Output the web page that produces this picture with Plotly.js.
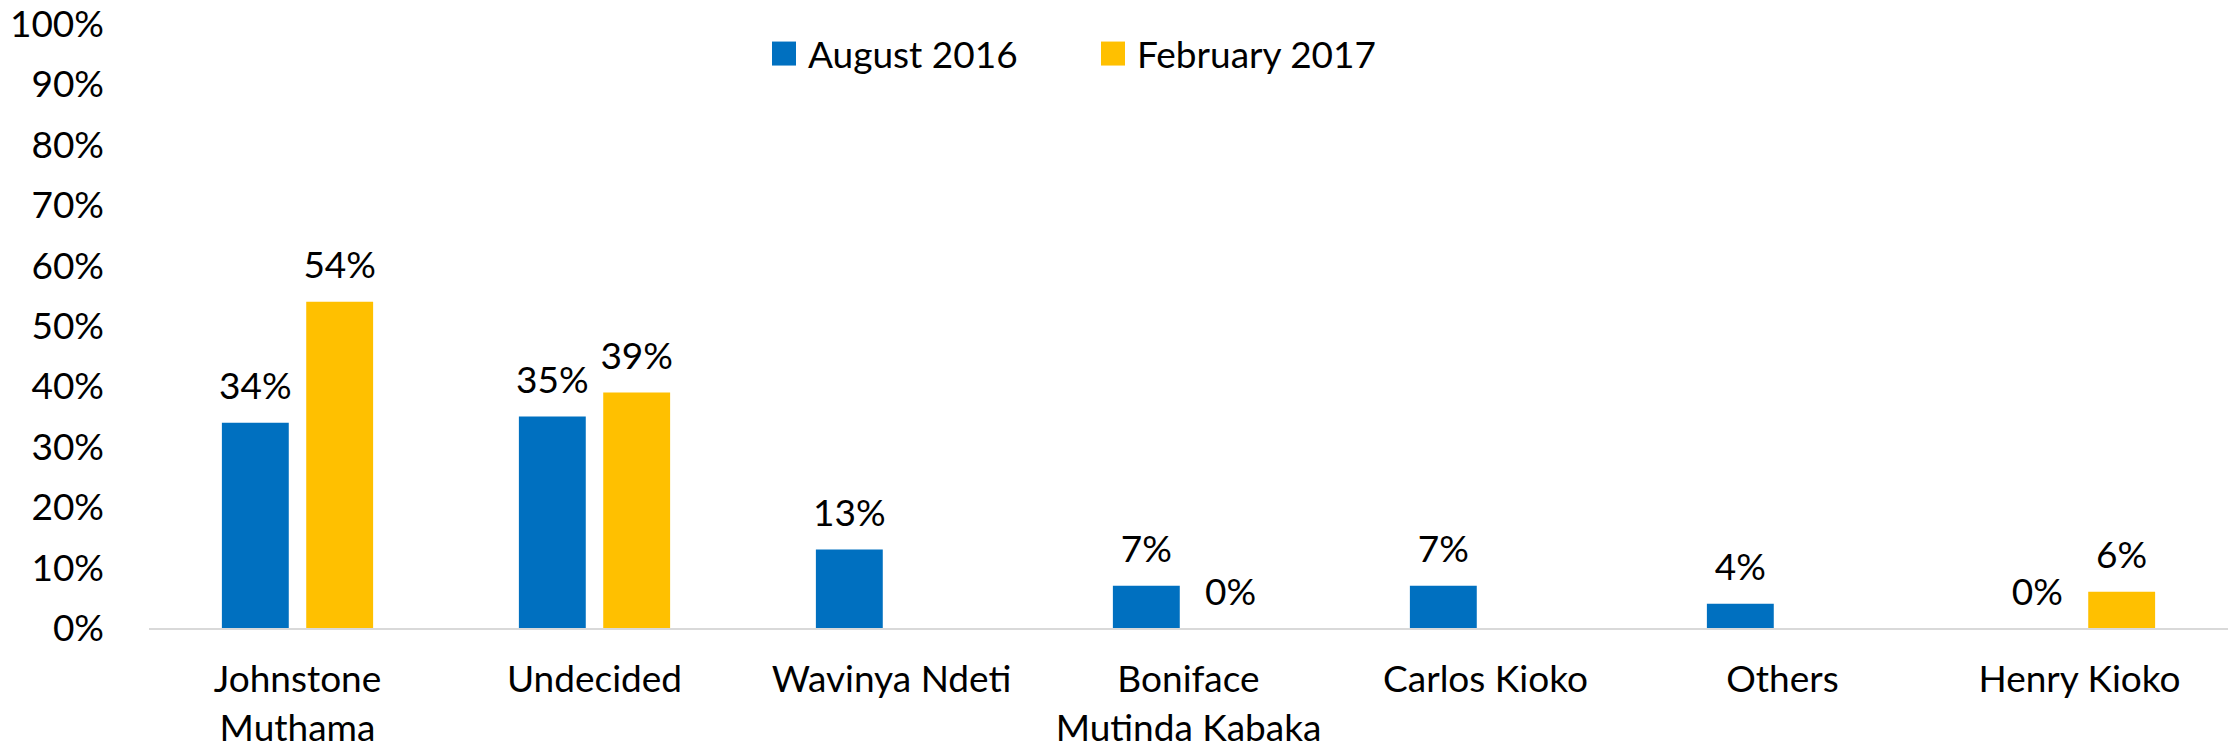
<!DOCTYPE html>
<html>
<head>
<meta charset="utf-8">
<script src="https://cdn.plot.ly/plotly-3.0.1.min.js"></script>
<style>html,body{margin:0;padding:0;background:#fff;}#chart{width:2228px;height:749px;}</style>
</head>
<body>
<div id="chart"></div>
<script>
var categories = ["Johnstone<br>Muthama", "Undecided", "Wavinya Ndeti", "Boniface<br>Mutinda Kabaka", "Carlos Kioko", "Others", "Henry Kioko"];
var seriesNames = ["August 2016", "February 2017"];
var aug2016 = [0.34, 0.35, 0.13, 0.07, 0.07, 0.04, 0];
var feb2017 = [0.54, 0.39, null, 0, null, null, 0.06];
var yTicks = [0, 0.1, 0.2, 0.3, 0.4, 0.5, 0.6, 0.7, 0.8, 0.9, 1.0];

var FONT = "Lato, 'Open Sans', sans-serif";
var FS = 37;
var colors = ["#0070C0", "#FFC000"];
var series = [aug2016, feb2017];

var traces = [];
series.forEach(function (vals, i) {
  traces.push({
    type: "bar", x: categories, y: vals, name: seriesNames[i],
    offsetgroup: String(i + 1),
    marker: {color: colors[i]}, hoverinfo: "skip"
  });
});
series.forEach(function (vals, i) {
  traces.push({
    type: "scatter", mode: "markers+text", x: categories, y: vals,
    offsetgroup: String(i + 1), showlegend: false,
    text: vals.map(function (v) { return v === null ? "" : Math.round(v * 100) + "%"; }),
    textposition: "top center",
    textfont: {family: FONT, size: FS, color: "#000"},
    marker: {size: 21, opacity: 0}, hoverinfo: "skip", cliponaxis: false
  });
});

var layout = {
  width: 2228, height: 749,
  margin: {l: 149, r: 0, t: 24, b: 121},
  paper_bgcolor: "#fff", plot_bgcolor: "rgba(0,0,0,0)",
  barmode: "group", bargap: 0.432, bargroupgap: 0.207,
  scattermode: "group", scattergap: 0.432,
  font: {family: FONT, size: FS, color: "#000"},
  showlegend: true,
  legend: {
    orientation: "h", xref: "paper", yref: "paper",
    x: (768 - 149) / 2079, xanchor: "left", y: (628 - 54) / 604, yanchor: "middle",
    bgcolor: "rgba(0,0,0,0)",
    font: {family: FONT, size: FS, color: "#000"},
    entrywidth: 284, entrywidthmode: "pixels", traceorder: "normal"
  },
  xaxis: {
    type: "category", showline: true, linecolor: "#d9d9d9", linewidth: 2,
    showgrid: false, zeroline: false, ticks: "", ticklabelstandoff: 18,
    tickfont: {family: FONT, size: FS, color: "#000"}, fixedrange: true
  },
  yaxis: {
    range: [0, 1], tickvals: yTicks, tickformat: ".0%", showgrid: false,
    zeroline: false, showline: false, ticks: "", ticklabelstandoff: 44,
    ticklabeloverflow: "allow",
    tickfont: {family: FONT, size: FS, color: "#000"}, fixedrange: true
  }
};

function bigLegendSymbols(gd) {
  gd.querySelectorAll(".legend .legendpoints path").forEach(function (p) {
    p.setAttribute("d", "M28,12H4V-12H28Z");
    p.removeAttribute("transform");
  });
}

Plotly.newPlot("chart", traces, layout, {displayModeBar: false, staticPlot: true}).then(function (gd) {
  bigLegendSymbols(gd);
  setTimeout(function () { bigLegendSymbols(gd); }, 50);
});
</script>
</body>
</html>
